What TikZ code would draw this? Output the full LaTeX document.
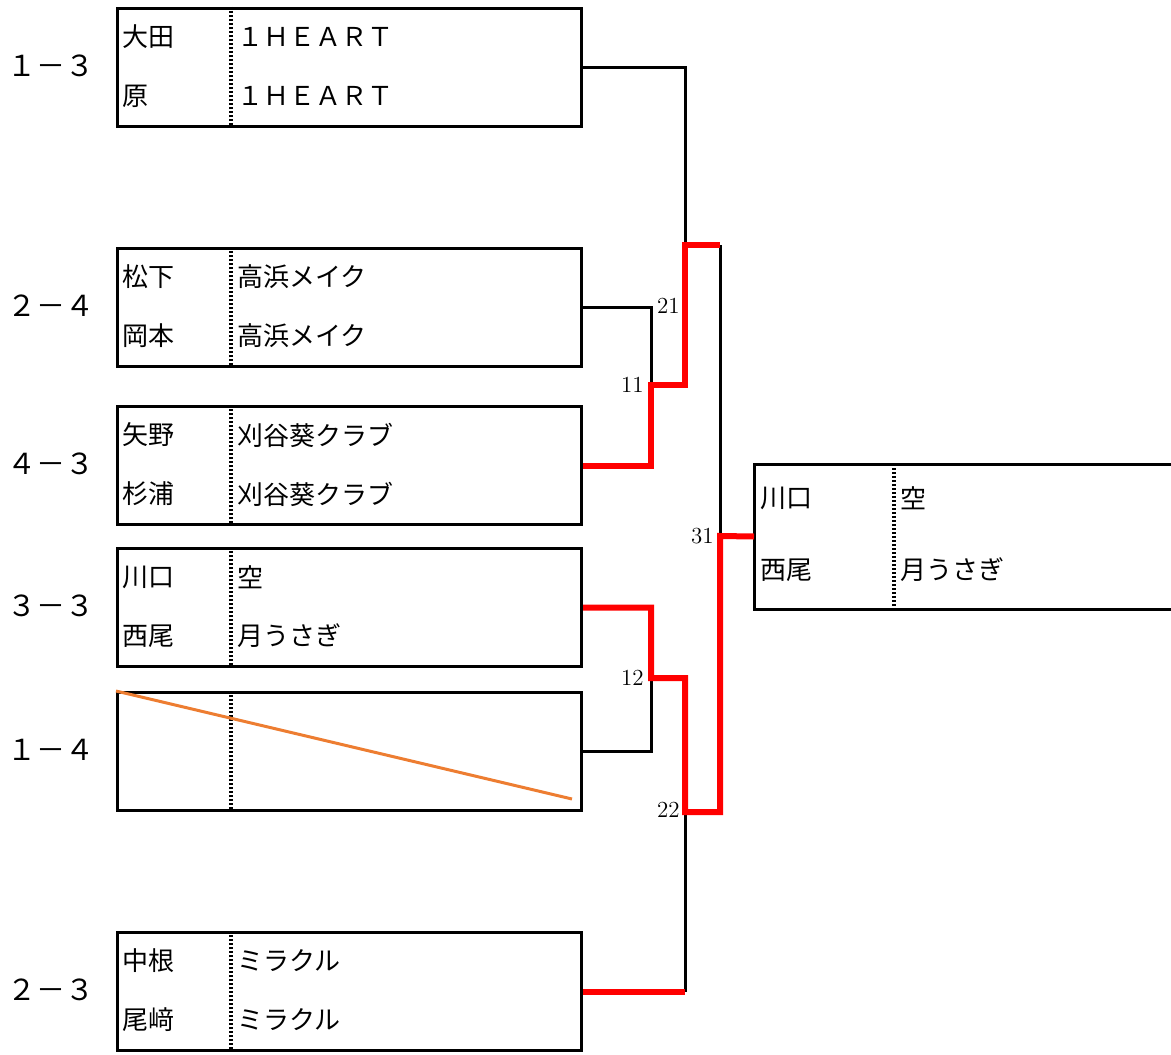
\documentclass[tikz,border=0pt]{standalone}
\usepackage{fontspec}
\newfontfamily\jp{Noto Sans CJK JP}
\usetikzlibrary{positioning}
\definecolor{xlorange}{RGB}{237,125,49}
\begin{document}
\begin{tikzpicture}[x=0.5pt,y=-0.5pt,
    box/.style={draw,line width=1.5pt,minimum width=232pt,minimum height=59pt,anchor=north west,inner sep=0pt},
    sep/.style={line width=1.8pt,dash pattern=on 1pt off 1pt},
    nm/.style={anchor=west,inner sep=0pt,font=\jp\fontsize{13}{13}\selectfont},
    score/.style={inner sep=0pt,font=\jp\fontsize{14.5}{14.5}\selectfont},
    lose/.style={line width=1.5pt},
    win/.style={red,line width=3pt},
    num/.style={anchor=east,inner sep=0pt,font=\fontsize{11.5}{11.5}\selectfont}]
    \useasboundingbox (0,0) rectangle (1171,1054);
    % teams
    \foreach \i/\y/\sc/\pa/\ta/\pb/\tb in {1/7/１－３/大田/１ＨＥＡＲＴ/原/１ＨＥＡＲＴ,
        2/247/２－４/松下/高浜メイク/岡本/高浜メイク,
        3/405/４－３/矢野/刈谷葵クラブ/杉浦/刈谷葵クラブ,
        4/547/３－３/川口/空/西尾/月うさぎ,
        6/931/２－３/中根/ミラクル/尾﨑/ミラクル}{
      \node[box] (t\i) at (116,\y) {};
      \draw[sep] (231,\y) -- (231,\y+118);
      \node[score] (s\i) at (51,\y+59) {\sc};
      \node[nm] at (122,\y+30) {\pa};
      \node[nm] at (237,\y+30) {\ta};
      \node[nm] at (122,\y+89) {\pb};
      \node[nm] at (237,\y+89) {\tb};
    }
    \node[box] (t5) at (116,691) {};
    \draw[sep] (231,691) -- (231,809);
    \node[score] (s5) at (51,750) {１－４};
    \draw[xlorange,line width=1.5pt] (t5.north west) -- (572,799);
    % winner
    \node[box,draw=none,minimum width=208.5pt,minimum height=71pt] (t7) at (754,464) {};
    \draw[line width=1.5pt] (t7.north east) -- (t7.north west) -- (t7.south west) -- (t7.south east);
    \draw[sep] (894,464) -- (894,606);
    \node[nm] at (760,498) {川口};
    \node[nm] at (900,498) {空};
    \node[nm] at (760,570) {西尾};
    \node[nm] at (900,570) {月うさぎ};
    % bracket
    \coordinate (m11) at (651,385);
    \coordinate (m12) at (651,678);
    \coordinate (m21) at (685,245);
    \coordinate (m22) at (685,812);
    \coordinate (m31) at (720,536);
    \draw[lose] (t1.east) -| (m21);
    \draw[lose] (t2.east) -| (m11);
    \draw[lose] (t5.east) -| (m12);
    \draw[lose] (t6.east -| m22) -- (m22);
    \draw[lose] (m21 -| m31) -- (m31);
    \draw[win] (t3.east) -| (m11) -| (m21) -- (m21 -| m31);
    \draw[win] (t4.east) -| (m12) -| (m22) -- (m22 -| m31) -- (m31) -- (t7.west);
    \draw[win] (t6.east) -- (t6.east -| m22);
    \node[num] (n11) at (644,385) {11};
    \node[num] (n12) at (644,678) {12};
    \node[num] (n21) at (680,306) {21};
    \node[num] (n22) at (680,810) {22};
    \node[num] (n31) at (714,536) {31};
\end{tikzpicture}
\end{document}
